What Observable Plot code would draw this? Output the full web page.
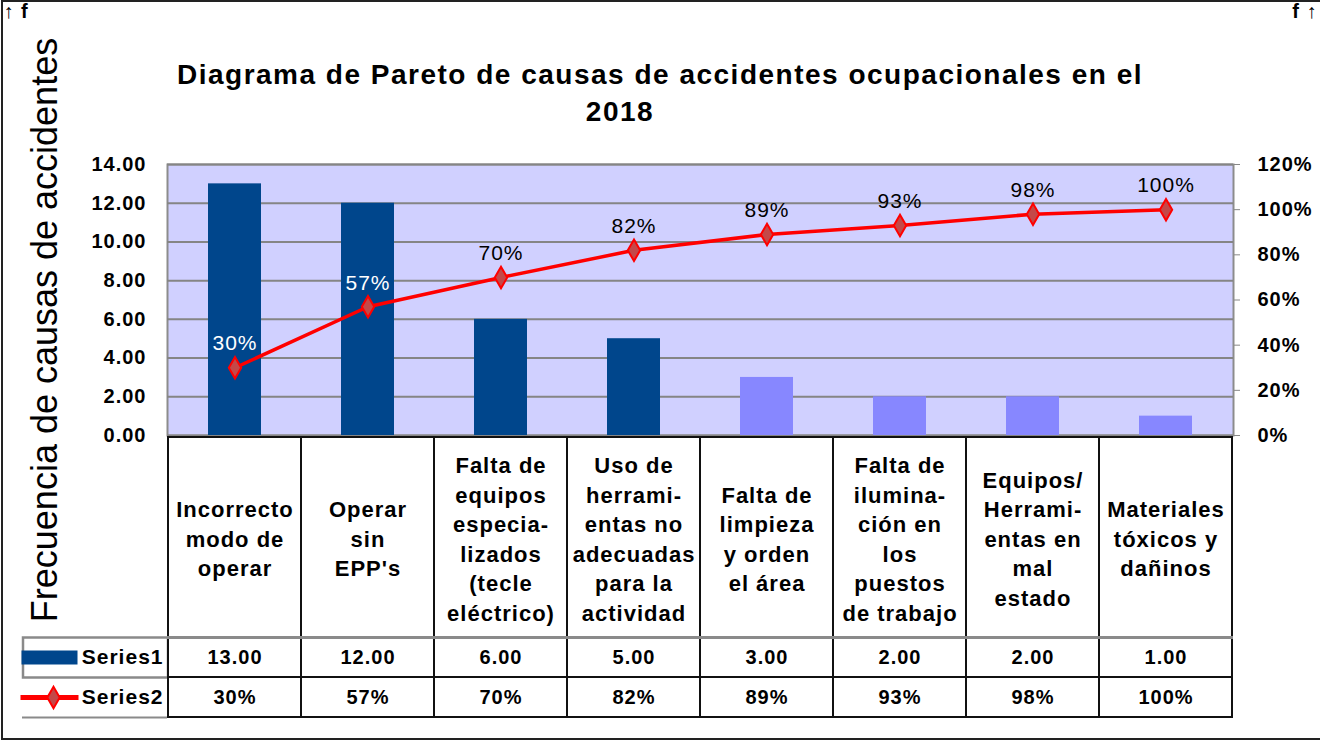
<!DOCTYPE html>
<html>
<head>
<meta charset="utf-8">
<script src="https://cdn.jsdelivr.net/npm/d3@7"></script>
<script src="https://cdn.jsdelivr.net/npm/@observablehq/plot@0.6"></script>
<style>
  body { margin: 0; background: #fff; }
  #wrap { position: relative; width: 1320px; height: 741px; overflow: hidden; background: #fff;
          font-family: "Liberation Sans", Arial, sans-serif; }
  #border { position: absolute; left: 1px; top: 0; width: 1319px; height: 740px;
            border: 2px solid #222; border-right: none; box-sizing: border-box; }
  .t { position: absolute; white-space: nowrap; font-weight: bold; font-size: 28px; letter-spacing: 1.5px;
       line-height: 32px; transform: translateX(-50%); color: #000; }
  #ytitle { position: absolute; left: 45px; top: 330px; white-space: nowrap; font-size: 36px;
            transform: translate(-50%, -50%) rotate(-90deg); color: #000; }
  .layer { position: absolute; left: 0; }
  svg { overflow: visible; }
</style>
</head>
<body>
<div id="wrap">
  <div id="border"></div>
  <div class="t" id="t1" style="left:660px; top:59px;"></div>
  <div class="t" id="t2" style="left:620px; top:96px;"></div>
  <div id="ytitle"></div>
  <div class="layer" id="chart" style="top:0;"></div>
  <div class="layer" id="table" style="top:437px;"></div>
</div>
<script>
// ---- data ----
const tituloLinea1 = "Diagrama de Pareto de causas de accidentes ocupacionales en el";
const tituloLinea2 = "2018";
const tituloEjeY = "Frecuencia de causas de accidentes";
const categorias = [
  "Incorrecto\nmodo de\noperar",
  "Operar\nsin\nEPP's",
  "Falta de\nequipos\nespecia-\nlizados\n(tecle\neléctrico)",
  "Uso de\nherrami-\nentas no\nadecuadas\npara la\nactividad",
  "Falta de\nlimpieza\ny orden\nel área",
  "Falta de\nilumina-\nción en\nlos\npuestos\nde trabajo",
  "Equipos/\nHerrami-\nentas en\nmal\nestado",
  "Materiales\ntóxicos y\ndañinos"
];
const frecuencia = [13, 12, 6, 5, 3, 2, 2, 1];
const acumulado = [30, 57, 70, 82, 89, 93, 98, 100];
const series = ["Series1", "Series2"];
const ticksFrecuencia = [0, 2, 4, 6, 8, 10, 12, 14];
const ticksPorcentaje = [0, 20, 40, 60, 80, 100, 120];

// ---- layout/style ----
const navy = "#00468C", light = "#8787FF", bg = "#D0D0FF";
const yMax = 14, pMax = 120;
const toY = p => p * yMax / pMax;
const font = "'Liberation Sans', Arial, sans-serif";

document.getElementById("t1").textContent = tituloLinea1;
document.getElementById("t2").textContent = tituloLinea2;
document.getElementById("ytitle").textContent = tituloEjeY;

const rows = categorias.map((c, i) => ({c, f: frecuencia[i], p: acumulado[i], i}));

const chart = Plot.plot({
  width: 1320, height: 437,
  marginLeft: 167, marginRight: 87, marginTop: 164, marginBottom: 2,
  style: {fontFamily: font, letterSpacing: "1px", overflow: "visible", background: "transparent"},
  x: {domain: categorias, padding: 0, axis: null},
  y: {domain: [0, yMax], axis: null},
  color: {type: "identity"},
  marks: [
    Plot.frame({fill: bg, stroke: "#8c8c8c", strokeWidth: 2}),
    Plot.gridY(ticksFrecuencia, {stroke: "#858585", strokeOpacity: 1, strokeWidth: 2}),
    Plot.barY(rows, {x: "c", y: "f", fill: d => d.i < 4 ? navy : light, insetLeft: 40, insetRight: 40}),
    Plot.axisY(ticksFrecuencia, {anchor: "left", tickSize: 0, tickPadding: 21,
      tickFormat: d => d.toFixed(2), fontSize: 20, fontWeight: "bold", fill: "#000"}),
    Plot.axisY(ticksPorcentaje.map(toY), {anchor: "right", tickSize: 6, tickPadding: 18, stroke: "#888",
      tickFormat: d => Math.round(d * pMax / yMax) + "%", fontSize: 20, fontWeight: "bold", fill: "#000"}),
    Plot.line(rows, {x: "c", y: d => toY(d.p), stroke: "#ff0000", strokeWidth: 3.5}),
    Plot.dot(rows, {x: "c", y: d => toY(d.p), symbol: "diamond", r: 6.5, fill: "#c44848", stroke: "#ff0000", strokeWidth: 2}),
    Plot.text(rows, {x: "c", y: d => toY(d.p), text: d => d.p + "%", dy: -24, fontSize: 21,
      fill: d => d.i < 2 ? "#ffffff" : "#000000"})
  ]
});
document.getElementById("chart").appendChild(chart);

// ---- table: label row spans 5 units, each series row 1 unit ----
const labelCells = categorias.map(c => ({c, y1: 0, y2: 5}));
const valueCells = [
  ...categorias.map((c, i) => ({c, y1: 5, y2: 6, t: frecuencia[i].toFixed(2)})),
  ...categorias.map((c, i) => ({c, y1: 6, y2: 7, t: acumulado[i] + "%"}))
];
const rectSym = (w, h) => ({draw(ctx) { ctx.rect(-w / 2, -h / 2, w, h); }});
const lineSym = w => ({draw(ctx) { ctx.moveTo(-w / 2, 0); ctx.lineTo(w / 2, 0); }});

const table = Plot.plot({
  width: 1320, height: 280,
  marginLeft: 167, marginRight: 87, marginTop: 0, marginBottom: 0,
  style: {fontFamily: font, letterSpacing: "1px", overflow: "visible", background: "transparent"},
  x: {domain: categorias, padding: 0, axis: null},
  y: {domain: [0, 7], range: [0, 280], axis: null},
  marks: [
    // legend box borders
    Plot.dot([5.5], {y: d => d, frameAnchor: "left", dx: -72, symbol: rectSym(145, 40), fill: "none", stroke: "#8a8a8a", strokeWidth: 2.5}),
    Plot.ruleY([7], {stroke: "#8a8a8a", strokeWidth: 2, insetLeft: -145, insetRight: 1066}),
    Plot.barY(labelCells, {x: "c", y1: "y1", y2: "y2", fill: "white", stroke: "#111", strokeWidth: 2}),
    Plot.barY(valueCells, {x: "c", y1: "y1", y2: "y2", fill: "white", stroke: "#111", strokeWidth: 2}),
    Plot.ruleY([5], {stroke: "#8a8a8a", strokeWidth: 3}),
    Plot.text(labelCells, {x: "c", y: d => (d.y1 + d.y2) / 2, text: "c", fontSize: 22, fontWeight: "bold", lineHeight: 1.34, fill: "#000"}),
    Plot.text(valueCells, {x: "c", y: d => (d.y1 + d.y2) / 2, text: "t", fontSize: 20, fontWeight: "bold", fill: "#000"}),
    // legend
    Plot.text(series, {y: (d, i) => 5.5 + i, text: d => d, frameAnchor: "left", textAnchor: "end", dx: -4, fontSize: 21, fontWeight: "bold", fill: "#000"}),
    Plot.dot([5.5], {y: d => d, frameAnchor: "left", dx: -118, symbol: rectSym(56, 14), fill: navy, stroke: "none"}),
    Plot.dot([6.5], {y: d => d, frameAnchor: "left", dx: -118, symbol: lineSym(58), fill: "none", stroke: "#ff0000", strokeWidth: 5}),
    Plot.dot([6.5], {y: d => d, frameAnchor: "left", dx: -114, symbol: "diamond", r: 6.5, fill: "#c44848", stroke: "#ff0000", strokeWidth: 2})
  ]
});
document.getElementById("table").appendChild(table);
</script>
</body>
</html>
